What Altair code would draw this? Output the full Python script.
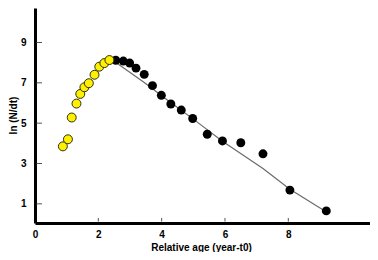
import altair as alt
import pandas as pd

yellow_x = [0.88, 1.04, 1.16, 1.31, 1.43, 1.56, 1.70, 1.88, 2.03, 2.19, 2.35]
yellow_y = [3.85, 4.20, 5.28, 5.97, 6.45, 6.78, 6.98, 7.40, 7.80, 7.98, 8.13]
black_x = [2.55, 2.79, 2.99, 3.19, 3.45, 3.71, 3.99, 4.29, 4.62, 4.98, 5.44, 5.92, 6.50, 7.20, 8.05, 9.20]
black_y = [8.12, 8.08, 7.98, 7.73, 7.42, 6.86, 6.38, 5.95, 5.65, 5.23, 4.45, 4.12, 4.03, 3.48, 1.68, 0.65]
line_x = [2.50, 3.45, 4.20, 5.00, 5.92, 7.20, 8.05, 9.18]
line_y = [8.07, 7.02, 6.12, 5.20, 4.10, 2.75, 1.72, 0.62]
x_ticks = [0, 2, 4, 6, 8]
y_ticks = [1, 3, 5, 7, 9]

xdom = [0, 10.58]
ydom = [0.05, 10.71]
FONT = "Liberation Sans"

yel = pd.DataFrame({"x": yellow_x, "y": yellow_y})
blk = pd.DataFrame({"x": black_x, "y": black_y})
ln = pd.DataFrame({"x": line_x, "y": line_y})
xt = pd.DataFrame({"v": [t for t in x_ticks if t > 0]})
yt = pd.DataFrame({"v": y_ticks})

xs = alt.Scale(domain=xdom, nice=False, zero=False)
ys = alt.Scale(domain=ydom, nice=False, zero=False)

xaxis = alt.Axis(values=x_ticks, ticks=False, grid=False, domainWidth=3, domainColor="black",
                 labelFont=FONT, labelFontSize=10, labelFontWeight="bold", labelColor="black",
                 labelPadding=6, title="Relative age (year-t0)", titleFont=FONT, titleFontSize=10,
                 titleFontWeight="bold", titleColor="black", titleX=166, titleY=24,
                 titleBaseline="middle", titleAlign="center", labelFlush=False)
yaxis = alt.Axis(values=y_ticks, ticks=False, grid=False, domainWidth=3, domainColor="black",
                 labelFont=FONT, labelFontSize=10, labelFontWeight="bold", labelColor="black",
                 labelPadding=9, title="ln (N/dt)", titleFont=FONT, titleFontSize=10,
                 titleFontWeight="bold", titleColor="black", titleX=-22, titleY=107,
                 titleAngle=270, titleBaseline="middle", titleAlign="center")

line = alt.Chart(ln).mark_line(color="#6b6b6b", strokeWidth=1.2).encode(
    x=alt.X("x:Q", scale=xs, axis=xaxis), y=alt.Y("y:Q", scale=ys, axis=yaxis))
ypts = alt.Chart(yel).mark_point(shape="circle", filled=True, size=80, color="#FFF000",
                                 stroke="#2e2e14", strokeWidth=1, opacity=1).encode(
    x=alt.X("x:Q", scale=xs), y=alt.Y("y:Q", scale=ys))
bpts = alt.Chart(blk).mark_point(shape="circle", filled=True, size=80, color="black", opacity=1).encode(
    x=alt.X("x:Q", scale=xs), y=alt.Y("y:Q", scale=ys))
ytk = alt.Chart(yt).mark_rule(color="#555555", strokeWidth=1).encode(
    y=alt.Y("v:Q", scale=ys), x=alt.value(1.5), x2=alt.value(7))
xtk = alt.Chart(xt).mark_rule(color="#555555", strokeWidth=1).encode(
    x=alt.X("v:Q", scale=xs), y=alt.value(210), y2=alt.value(213.5))

chart = alt.layer(line, ytk, xtk, bpts, ypts).properties(
    width=335, height=215,
    autosize=alt.AutoSizeParams(type="none"),
    padding={"left": 27, "top": 0, "right": 0, "bottom": 29},
    background="white",
).configure_view(stroke=None)

chart.save("out.html", embed_options={"renderer": "svg", "actions": False})
